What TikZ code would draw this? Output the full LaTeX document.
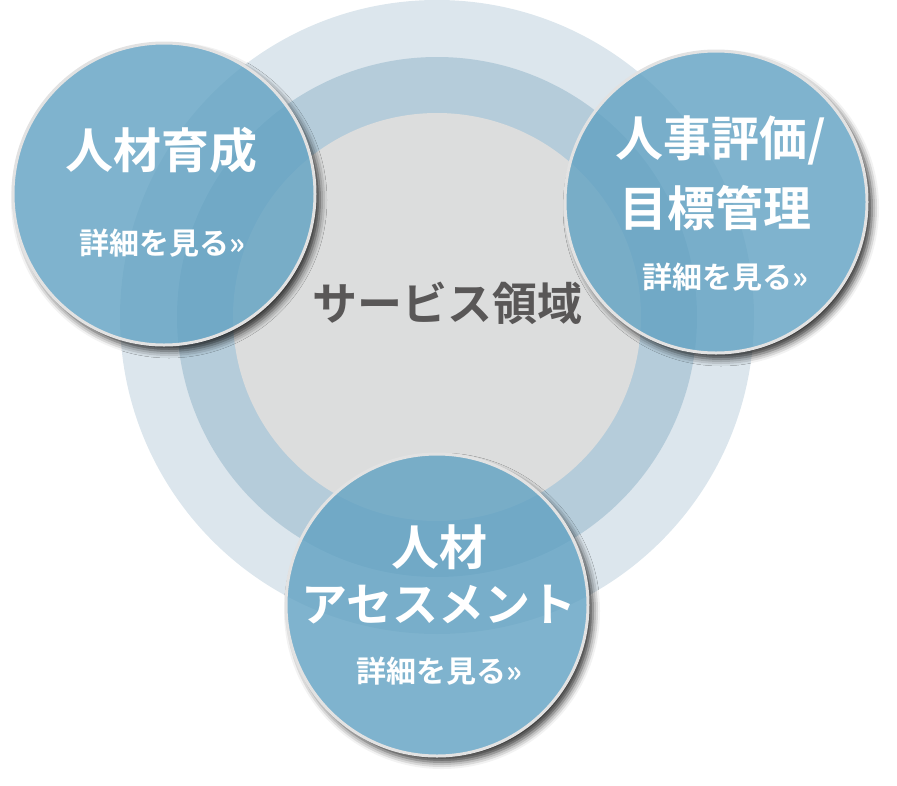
\documentclass[tikz,border=0pt]{standalone}
\usepackage{fontspec}
\setmainfont{Noto Sans CJK JP}[BoldFont={* Bold}]
\usetikzlibrary{shadows.blur}
\definecolor{ringout}{HTML}{DCE6ED}
\definecolor{ringmid}{HTML}{B5CCDA}
\definecolor{ringin}{HTML}{DCDDDD}
\definecolor{bub}{RGB}{96,161,194}
\definecolor{bubedge}{HTML}{E2E2E2}
\definecolor{txtgray}{HTML}{595757}
\newcommand\myrings{%
  \fill[ringout] (437,317) circle (317);
  \fill[ringmid] (437,317) circle (260);
  \fill[ringin] (437,317) circle (204);
}
\newcommand\mybubble[2]{%
  \fill[white, blur shadow={shadow xshift=5pt, shadow yshift=-6pt, shadow blur radius=7pt, shadow opacity=80}] #1 circle (151);
  \begin{scope}
    \clip #1 circle (151);
    \myrings
  \end{scope}
  \node[bubble] (#2) at #1 {};
}
\begin{document}
\begin{tikzpicture}[x=1pt,y=-1pt,
  bubble/.style={circle, minimum size=302pt, inner sep=0pt, fill=bub, fill opacity=0.8, draw=bubedge, draw opacity=1, line width=3pt},
  title/.style={text=white, font=\bfseries\fontsize{48}{52}\selectfont, inner sep=0pt},
  more/.style={text=white, font=\bfseries\fontsize{30}{34}\selectfont, inner sep=0pt},
  centre/.style={text=txtgray, font=\bfseries\fontsize{45}{50}\selectfont, inner sep=0pt}
]
\useasboundingbox (0,0) rectangle (897,785);
\myrings
\node[centre] (area) at (447,303) {サービス領域};
\mybubble{(164,194)}{left}
\mybubble{(716,202)}{right}
\mybubble{(437,605)}{bottom}
\node[title] (lt) at (161,150) {人材育成};
\node[more] (lm) at (162,243) {詳細を見る»};
\node[title] (rt1) at (721,140) {人事評価/};
\node[title] (rt2) at (715,208) {目標管理};
\node[more] (rm) at (725,277) {詳細を見る»};
\node[title] (bt1) at (439,547) {人材};
\node[title, font=\bfseries\fontsize{46}{50}\selectfont] (bt2) at (439,605) {アセスメント};
\node[more] (bm) at (439,671) {詳細を見る»};
\end{tikzpicture}
\end{document}
